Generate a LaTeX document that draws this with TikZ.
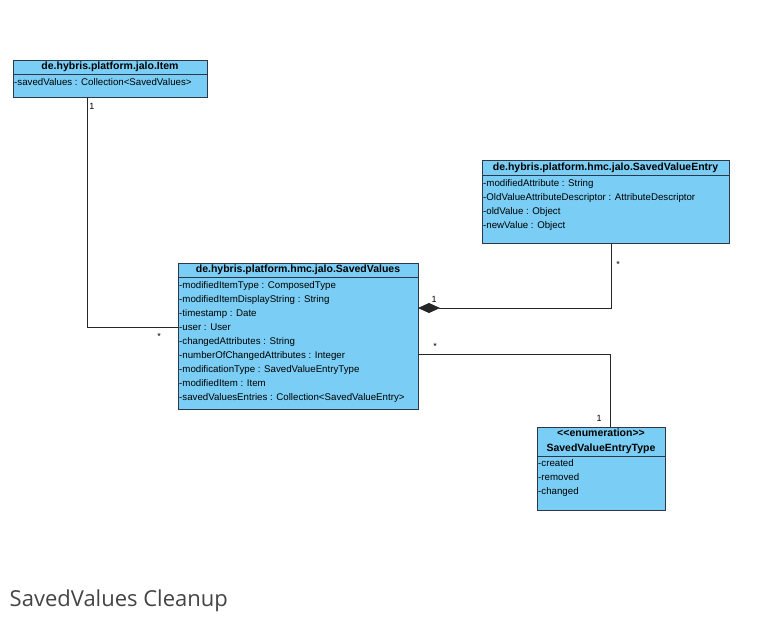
\documentclass[tikz,border=0pt]{standalone}
\usepackage{fontspec}
\newfontfamily\umlfont{Liberation Sans}
\newfontfamily\captionfont{Open Sans}
\usetikzlibrary{arrows.meta}
\usetikzlibrary{positioning}
\definecolor{classfill}{RGB}{122,206,245}
\definecolor{classline}{RGB}{45,55,70}
\definecolor{captiongray}{RGB}{68,68,68}

\begin{document}
\begin{tikzpicture}[x=1pt,y=-1pt,
    head/.style={draw=classline, fill=classfill, line width=0.9pt, anchor=north west,
      inner sep=0pt, outer sep=0pt, minimum height=14pt, align=center,
      font=\umlfont\fontsize{10.5}{15}\selectfont\bfseries},
    body/.style={draw=classline, fill=classfill, line width=0.9pt, anchor=north west,
      inner sep=0pt, outer sep=0pt},
    attrs/.style={anchor=north west, align=left, inner xsep=1pt, inner ysep=4pt,
      font=\umlfont\fontsize{9.7}{14}\selectfont},
    mult/.style={inner sep=0pt, font=\umlfont\fontsize{9}{10}\selectfont},
    link/.style={draw=black!85, line width=0.8pt},
  ]
  \useasboundingbox (0,0) rectangle (766,629);

  % class Item
  \node[head, minimum width=194pt] (itemhead) at (13,60) {de.hybris.platform.jalo.Item};
  \node[body, minimum width=194pt, minimum height=23pt] (itembody) at (itemhead.south west) {};
  \node[attrs] (itemattrs) at (itembody.north west) {-savedValues : Collection<SavedValues>};

  % class SavedValues
  \node[head, minimum width=240pt] (svhead) at (178,263) {de.hybris.platform.hmc.jalo.SavedValues};
  \node[body, minimum width=240pt, minimum height=132pt] (svbody) at (svhead.south west) {};
  \node[attrs] (svattrs) at (svbody.north west) {-modifiedItemType : ComposedType\\
    -modifiedItemDisplayString : String\\
    -timestamp : Date\\
    -user : User\\
    -changedAttributes : String\\
    -numberOfChangedAttributes : Integer\\
    -modificationType : SavedValueEntryType\\
    -modifiedItem : Item\\
    -savedValuesEntries : Collection<SavedValueEntry>};

  % class SavedValueEntry
  \node[head, minimum width=247pt, minimum height=15pt] (entryhead) at (482,160) {de.hybris.platform.hmc.jalo.SavedValueEntry};
  \node[body, minimum width=247pt, minimum height=68pt] (entrybody) at (entryhead.south west) {};
  \node[attrs] (entryattrs) at (entrybody.north west) {-modifiedAttribute : String\\
    -OldValueAttributeDescriptor : AttributeDescriptor\\
    -oldValue : Object\\
    -newValue : Object};

  % enumeration SavedValueEntryType
  \node[head, minimum width=128pt, minimum height=29pt] (enumhead) at (537,427) {<<enumeration>>\\SavedValueEntryType};
  \node[body, minimum width=128pt, minimum height=54pt] (enumbody) at (enumhead.south west) {};
  \node[attrs, inner ysep=3pt] (enumattrs) at (enumbody.north west) {-created\\
    -removed\\
    -changed};

  % associations
  \draw[link] ([xshift=-23pt]itembody.south) |- ([yshift=16pt]svbody.west);
  \draw[link, {Diamond[length=22pt,width=10pt]}-] ([yshift=35pt]svbody.east) -| ([xshift=5.5pt]entrybody.south);
  \draw[link] ([yshift=-11pt]svbody.east) -| ([xshift=9pt]enumhead.north);

  % multiplicities
  \node[mult] (m1) at (92,106) {1};
  \node[mult] (m2) at (159,336) {*};
  \node[mult] (m3) at (434,299) {1};
  \node[mult] (m4) at (618,264) {*};
  \node[mult] (m5) at (435,346) {*};
  \node[mult] (m6) at (599,418) {1};

  \node[anchor=base west, inner sep=0pt, text=captiongray,
    font=\captionfont\fontsize{22}{27}\selectfont] (caption) at (9.5,606) {SavedValues Cleanup};
\end{tikzpicture}
\end{document}
